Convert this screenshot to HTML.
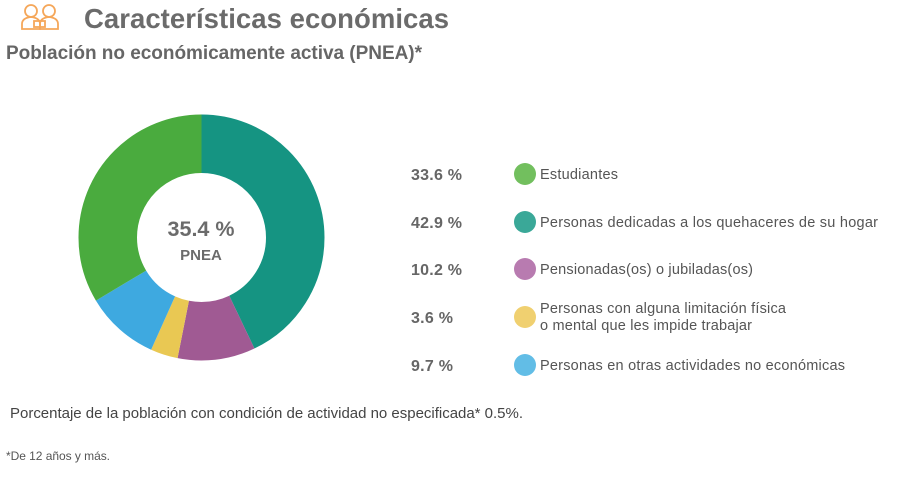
<!DOCTYPE html>
<html><head><meta charset="utf-8"><style>
body{margin:0;width:911px;height:489px;background:#fff;font-family:"Liberation Sans",sans-serif;overflow:hidden}
svg{position:absolute;left:0;top:0}
</style></head><body>
<svg width="911" height="489" viewBox="0 0 911 489" font-family="Liberation Sans, sans-serif">
<g fill="none" stroke="#f5a75a" stroke-width="1.8">
<circle cx="31" cy="11" r="6"/><path d="M22 29v-5q0-6 9-7q9 1 9 7v5z"/>
<circle cx="49" cy="11" r="6"/><path d="M40 29v-5q0-6 9-7q9 1 9 7v5z"/>
<rect x="34" y="21" width="11" height="6"/>
</g>
<text x="84" y="28" font-size="27.5" font-weight="bold" fill="#6b6b6b" textLength="365">Características económicas</text>
<text x="6" y="59" font-size="19" font-weight="bold" fill="#666" textLength="416">Población no económicamente activa (PNEA)*</text>
<g transform="rotate(-90 201.5 237.5)" fill="none" stroke-width="58.5">
<circle cx="201.5" cy="237.5" r="93.75" stroke="#159482" stroke-dasharray="252.70 589.05" stroke-dashoffset="0"/>
<circle cx="201.5" cy="237.5" r="93.75" stroke="#a05a93" stroke-dasharray="60.08 589.05" stroke-dashoffset="-252.70"/>
<circle cx="201.5" cy="237.5" r="93.75" stroke="#e9c853" stroke-dasharray="21.21 589.05" stroke-dashoffset="-312.78"/>
<circle cx="201.5" cy="237.5" r="93.75" stroke="#3ea9e0" stroke-dasharray="57.14 589.05" stroke-dashoffset="-333.99"/>
<circle cx="201.5" cy="237.5" r="93.75" stroke="#4aab3e" stroke-dasharray="197.92 589.05" stroke-dashoffset="-391.13"/>
</g>
<text x="201" y="236" font-size="21.5" font-weight="bold" fill="#6b6b6b" text-anchor="middle" textLength="67">35.4 %</text>
<text x="201" y="260" font-size="15" font-weight="bold" fill="#6b6b6b" text-anchor="middle">PNEA</text>
<g font-size="16" font-weight="bold" fill="#666">
<text x="411" y="180" textLength="51">33.6 %</text><text x="411" y="228" textLength="51">42.9 %</text><text x="411" y="275" textLength="51">10.2 %</text><text x="411" y="323" textLength="42">3.6 %</text><text x="411" y="371" textLength="42">9.7 %</text>
</g>
<circle cx="525" cy="174" r="11" fill="#72bf5e"/>
<circle cx="525" cy="222" r="11" fill="#3aa898"/>
<circle cx="525" cy="269" r="11" fill="#b87bb0"/>
<circle cx="525" cy="317" r="11" fill="#f0d070"/>
<circle cx="525" cy="365" r="11" fill="#62bde6"/>
<g font-size="14.5" fill="#555">
<text x="540" y="179" textLength="78">Estudiantes</text>
<text x="540" y="227" textLength="338">Personas dedicadas a los quehaceres de su hogar</text>
<text x="540" y="274" textLength="213">Pensionadas(os) o jubiladas(os)</text>
<text x="540" y="313" textLength="246">Personas con alguna limitación física</text>
<text x="540" y="330" textLength="212">o mental que les impide trabajar</text>
<text x="540" y="370" textLength="305">Personas en otras actividades no económicas</text>
</g>
<text x="10" y="418" font-size="15" fill="#444" textLength="513">Porcentaje de la población con condición de actividad no especificada* 0.5%.</text>
<text x="6" y="460" font-size="12" fill="#555" textLength="104">*De 12 años y más.</text>
</svg>
</body></html>
